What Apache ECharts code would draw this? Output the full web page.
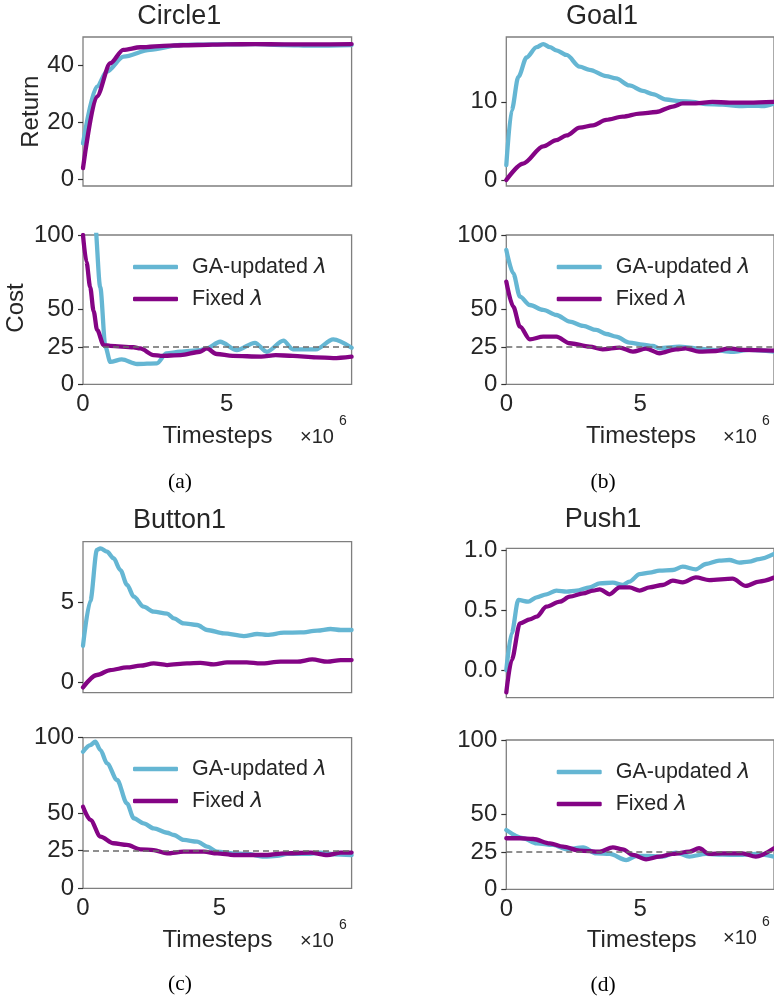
<!DOCTYPE html>
<html><head><meta charset="utf-8">
<script src="https://cdn.jsdelivr.net/npm/echarts@6/dist/echarts.min.js"></script>
<style>html,body{margin:0;padding:0;background:#fff}#c{width:774px;height:999px}</style>
</head><body><div id="c"></div>
<script>
// ---------- data ----------
const panelTitles = ['Circle1', 'Goal1', 'Button1', 'Push1'];
const panelCaptions = ['(a)', '(b)', '(c)', '(d)'];
const seriesNames = ['GA-updated λ', 'Fixed λ'];
const xMax = [9.34, 10.0, 9.84, 10.0];          // ×10^6 timesteps
const xTicks = [0, 5];
const costTicks = [0, 25, 50, 100];
const costLimit = 25;
const returnTicks = [[0, 20, 40], [0, 10], [0, 5], [0, 0.5, 1.0]];
const returnMin = [-2.46, -0.77, -0.62, -0.224];
const returnMax = [49.8, 18.3, 8.77, 1.014];

// (a) Circle1
const aRetGaX = [0, 0.48, 0.83, 1.41, 2.33, 3.38, 4.5, 6, 7, 8, 9.34];
const aRetGaY = [12.5, 32.4, 37.7, 42.9, 45.3, 47.0, 47.2, 47.3, 47.0, 46.8, 47.0];
const aRetFixX = [0, 0.48, 0.95, 1.4, 2, 3, 4, 5, 6, 7, 8, 9.34];
const aRetFixY = [3.8, 28.9, 40.6, 45.3, 46.2, 46.8, 47.0, 47.2, 47.3, 47.2, 47.2, 47.3];
const aCostGaX = [0, 0.2, 0.4, 0.6, 0.78, 0.95, 1.35, 1.88, 2.57, 2.9, 3.38, 4.07, 4.3, 4.77, 5.35, 5.98, 6.39, 6.97, 7.3, 8.1, 8.7, 9.34];
const aCostGaY = [190, 150, 112, 65, 25, 15, 16.7, 13.6, 14, 20.7, 21.8, 22.9, 24, 28.5, 22.9, 27.8, 21.8, 29.2, 23.4, 23.4, 30.1, 24.5];
const aCostFixX = [0, 0.12, 0.25, 0.37, 0.49, 0.72, 0.95, 1.76, 1.99, 2.45, 2.7, 3.4, 4.07, 4.3, 4.65, 5.2, 6.2, 6.7, 7.3, 8.1, 8.7, 9.34];
const aCostFixY = [100, 82, 65, 49, 36.4, 26.3, 25.7, 24.8, 24, 19.6, 19, 19.6, 21.8, 24, 20.3, 19, 18.6, 19.6, 19, 18.1, 17.5, 18.5];

// (b) Goal1
const bRetGaX = [0, 0.2, 0.45, 0.76, 1.13, 1.38, 1.63, 1.87, 2.25, 2.74, 3.11, 3.73, 4.1, 4.6, 5.1, 5.47, 5.97, 6.46, 6.96, 7.46, 8.08, 8.7, 9.32, 9.57, 10.0];
const bRetGaY = [1.9, 8.9, 13.2, 15.7, 17.0, 17.4, 17.0, 16.6, 16.0, 14.5, 14.1, 13.3, 13.0, 12.1, 11.4, 11.0, 10.3, 10.1, 10.0, 9.7, 9.65, 9.45, 9.5, 9.45, 9.8];
const bRetFixX = [0, 0.63, 1.38, 1.87, 2.25, 2.74, 3.24, 3.73, 4.35, 4.98, 5.6, 6.22, 6.59, 7.08, 7.7, 8.33, 9.07, 10.0];
const bRetFixY = [0, 2.1, 4.3, 5.1, 5.7, 6.7, 7.0, 7.7, 8.1, 8.5, 8.7, 9.4, 9.8, 9.8, 10.0, 9.9, 9.9, 10.0];
const bCostGaX = [0, 0.26, 0.51, 0.88, 1.38, 1.87, 2.37, 2.87, 3.36, 3.73, 4.1, 4.6, 5.1, 5.47, 5.72, 6.46, 7.08, 7.7, 8.45, 9.07, 10.0];
const bCostGaY = [90, 74.3, 58.7, 53.1, 49.8, 46.4, 42.0, 39.1, 36.4, 33.7, 31.9, 27.9, 26.6, 25.7, 24.1, 25.2, 24.1, 23.0, 21.7, 23.0, 21.9];
const bCostFixX = [0, 0.26, 0.51, 0.88, 1.38, 1.87, 2.37, 3.11, 3.6, 4.23, 4.73, 5.22, 5.72, 6.34, 6.7, 7.2, 7.83, 8.33, 8.82, 10.0];
const bCostFixY = [68.8, 52, 38.6, 30.1, 31.9, 31.9, 27.5, 25.2, 23.4, 24.6, 21.9, 23.9, 20.8, 23.4, 24.1, 21.9, 22.3, 24.1, 23.0, 22.5];

// (c) Button1
const cRetGaX = [0, 0.27, 0.51, 0.64, 0.88, 1.12, 1.37, 1.61, 1.86, 2.22, 2.59, 3.08, 3.33, 3.69, 4.18, 4.55, 5.16, 5.89, 6.38, 6.75, 7.36, 7.97, 8.58, 9.07, 9.44, 9.84];
const cRetGaY = [2.3, 5.1, 8.26, 8.36, 8.15, 7.74, 7.0, 6.1, 5.35, 4.73, 4.42, 4.3, 4.0, 3.69, 3.59, 3.28, 3.07, 2.9, 3.03, 2.97, 3.11, 3.13, 3.24, 3.34, 3.28, 3.28];
const cRetFixX = [0, 0.51, 1.0, 1.61, 2.1, 2.59, 3.08, 3.81, 4.3, 4.79, 5.28, 6.0, 6.5, 7.24, 7.85, 8.4, 8.95, 9.44, 9.84];
const cRetFixY = [-0.29, 0.48, 0.79, 0.95, 1.06, 1.2, 1.1, 1.2, 1.24, 1.14, 1.27, 1.27, 1.2, 1.31, 1.31, 1.45, 1.31, 1.41, 1.41];
const cCostGaX = [0, 0.27, 0.45, 0.64, 0.88, 1.25, 1.61, 1.86, 2.22, 2.59, 3.08, 3.33, 3.69, 4.18, 4.55, 4.91, 5.53, 6.01, 6.63, 7.11, 7.48, 8.22, 8.7, 9.19, 9.84];
const cCostGaY = [90.7, 95.1, 97.3, 91.8, 83, 71.9, 56.4, 46.5, 43.1, 39.8, 36.9, 35.4, 32.1, 31.0, 27.7, 24.3, 23.2, 22.8, 21.0, 21.5, 22.8, 22.8, 23.7, 22.6, 22.1];
const cCostFixX = [0, 0.27, 0.64, 1.12, 1.61, 2.1, 2.59, 3.08, 3.69, 4.43, 4.91, 5.53, 6.01, 6.75, 7.36, 8.34, 8.95, 9.44, 9.84];
const cCostFixY = [54.2, 45.4, 34.3, 29.9, 28.8, 25.9, 25.4, 23.2, 24.3, 24.3, 23.2, 22.1, 22.1, 22.1, 23.2, 23.7, 22.1, 23.7, 23.7];

// (d) Push1
const dRetGaX = [0, 0.2, 0.45, 0.82, 1.13, 1.5, 1.87, 2.25, 2.62, 3.11, 3.49, 3.98, 4.35, 4.6, 4.98, 5.35, 5.72, 6.22, 6.59, 7.08, 7.46, 7.95, 8.33, 8.7, 9.07, 9.44, 10.0];
const dRetGaY = [0.005, 0.31, 0.586, 0.572, 0.608, 0.633, 0.663, 0.655, 0.663, 0.69, 0.724, 0.729, 0.71, 0.738, 0.80, 0.812, 0.829, 0.834, 0.862, 0.84, 0.884, 0.912, 0.917, 0.895, 0.903, 0.925, 0.967];
const dRetFixX = [0, 0.2, 0.51, 0.88, 1.13, 1.5, 2.0, 2.37, 2.87, 3.24, 3.49, 3.86, 4.23, 4.6, 4.98, 5.35, 5.84, 6.22, 6.59, 7.08, 7.58, 8.45, 8.95, 9.44, 10.0];
const dRetFixY = [-0.18, 0.088, 0.392, 0.425, 0.448, 0.53, 0.572, 0.613, 0.64, 0.663, 0.674, 0.633, 0.69, 0.69, 0.663, 0.69, 0.71, 0.746, 0.732, 0.773, 0.751, 0.762, 0.702, 0.738, 0.771];
const dCostGaX = [0, 0.63, 1.13, 1.75, 2.25, 2.87, 3.36, 3.86, 4.48, 4.85, 5.35, 5.84, 6.34, 6.84, 7.46, 8.08, 8.7, 9.32, 10.0];
const dCostGaY = [39.7, 34.2, 30.8, 29.7, 26.8, 28.1, 24.1, 23.7, 19.6, 22.3, 22.3, 21.9, 24.6, 21.9, 23.7, 23.2, 23.0, 23.7, 21.9];
const dCostFixX = [0, 0.51, 1.0, 1.63, 2.12, 2.74, 3.49, 3.98, 4.35, 4.73, 5.22, 5.72, 6.22, 6.84, 7.2, 7.58, 8.08, 8.82, 9.32, 10.0];
const dCostFixY = [34.2, 34.2, 33.7, 30.8, 28.6, 25.9, 25.2, 28.1, 26.8, 23.0, 20.1, 21.9, 23.7, 25.2, 27.5, 23.7, 24.1, 24.1, 21.9, 27.5];

const retData = [
  [[aRetGaX, aRetGaY], [aRetFixX, aRetFixY]],
  [[bRetGaX, bRetGaY], [bRetFixX, bRetFixY]],
  [[cRetGaX, cRetGaY], [cRetFixX, cRetFixY]],
  [[dRetGaX, dRetGaY], [dRetFixX, dRetFixY]]
];
const costData = [
  [[aCostGaX, aCostGaY], [aCostFixX, aCostFixY]],
  [[bCostGaX, bCostGaY], [bCostFixX, bCostFixY]],
  [[cCostGaX, cCostGaY], [cCostFixX, cCostFixY]],
  [[dCostGaX, dCostGaY], [dCostFixX, dCostFixY]]
];

// ---------- layout / style ----------
const FONT = "'Liberation Sans', Arial, sans-serif";
const TXT = '#262626';
const COLORS = ['#65b6d3', '#840485'];
const L = [83, 506.3, 83, 506.3];
const W = 268.6;
const retBox = [[37, 149], [37, 149], [541.7, 151], [548.3, 149.4]];
const costBox = [[235, 149.3], [235, 149.3], [737.7, 150.6], [740, 149.3]];
const legendPos = [[128, 249], [551.7, 249], [128, 751], [551.7, 754]];

const pairs = (xs, ys) => xs.map((x, i) => [x, ys[i]]);

const grids = [], xAxes = [], yAxes = [], series = [], legends = [];
for (let p = 0; p < 4; p++) {
  [retBox[p], costBox[p]].forEach((box, k) => {
    const gi = grids.length;
    grids.push({left: L[p], top: box[0], width: W, height: box[1], show: true,
      borderColor: '#7f7f7f', borderWidth: 1.3, backgroundColor: 'transparent', containLabel: false});
    const isCost = k === 1;
    xAxes.push({type: 'value', gridIndex: gi, min: 0, max: xMax[p],
      axisLine: {show: false, onZero: false}, splitLine: {show: false},
      axisTick: {show: false},
      axisLabel: {show: isCost, customValues: xTicks, margin: 8, fontSize: 24, color: TXT, fontFamily: FONT}});
    const ticks = isCost ? costTicks : returnTicks[p];
    yAxes.push({type: 'value', gridIndex: gi,
      min: isCost ? 0 : returnMin[p], max: isCost ? 100 : returnMax[p],
      axisLine: {show: false}, splitLine: {show: false},
      axisTick: {show: true, customValues: ticks, length: 5, lineStyle: {color: '#333', width: 1.2}},
      axisLabel: {show: true, customValues: ticks, margin: 9, fontSize: 24, color: TXT, fontFamily: FONT,
        formatter: v => (p === 3 && !isCost) ? v.toFixed(1) : String(v)}});
    const data = isCost ? costData[p] : retData[p];
    data.forEach((d, s) => {
      const ser = {type: 'line', name: seriesNames[s], xAxisIndex: gi, yAxisIndex: gi,
        data: pairs(d[0], d[1]), showSymbol: false, symbol: 'none', smooth: 0.3, smoothMonotone: 'x',
        clip: true, lineStyle: {color: COLORS[s], width: 4.3, cap: 'round', join: 'round'},
        itemStyle: {color: COLORS[s]}, z: 2 + s, animation: false};
      if (isCost && s === 1) {
        ser.markLine = {silent: true, symbol: ['none', 'none'], animation: false,
          label: {show: false}, lineStyle: {type: [6, 4], color: '#6b6b6b', width: 1.5},
          emphasis: {disabled: true}, data: [{yAxis: costLimit}]};
      }
      series.push(ser);
    });
  });
  legends.push({left: legendPos[p][0], top: legendPos[p][1], orient: 'vertical',
    itemWidth: 45, itemHeight: 4.5, itemGap: 6, icon: 'roundRect', selectedMode: false,
    data: seriesNames,
    formatter: n => '{t|' + n.replace(' λ', ' ') + '}{l|λ}',
    textStyle: {color: TXT, fontSize: 21.5, fontFamily: FONT, lineHeight: 26, padding: [0, 0, 0, 9],
      rich: {t: {color: TXT, fontSize: 21.5, fontFamily: FONT, lineHeight: 26},
             l: {color: TXT, fontSize: 21.5, fontFamily: "'DejaVu Sans', sans-serif", fontStyle: 'italic', lineHeight: 26}}}});
}

// ---------- text elements ----------
const titlePos = [[179.3, 16.5], [602, 16.5], [179.5, 520.7], [603, 520]];
const capPos = [[180, 482], [603, 482], [180, 984], [603, 985]];
const tsPos = [[217.5, 436], [641, 436], [217.5, 940], [641.7, 940]];
const x10Pos = [[300, 437], [723, 437], [300, 941], [723, 938]];
const graphics = [];
const txt = (x, y, text, size, opts = {}) => Object.assign({type: 'text', x, y, silent: true,
  style: Object.assign({text, fontSize: size, fontFamily: FONT, fill: TXT, align: 'center', verticalAlign: 'middle'}, opts.style || {})},
  opts.el || {});
for (let p = 0; p < 4; p++) {
  graphics.push(txt(titlePos[p][0], titlePos[p][1], panelTitles[p], 27));
  graphics.push(txt(capPos[p][0], capPos[p][1], panelCaptions[p], 21.5, {style: {fontFamily: "'Liberation Serif', 'Times New Roman', serif", fill: '#000'}}));
  graphics.push(txt(tsPos[p][0], tsPos[p][1], 'Timesteps', 24));
  graphics.push(txt(x10Pos[p][0], x10Pos[p][1], '×10', 20, {style: {align: 'left'}}));
  graphics.push(txt(x10Pos[p][0] + 43, x10Pos[p][1] - 15.5, '6', 14));
}
graphics.push(txt(31, 111.7, 'Return', 24, {el: {rotation: Math.PI / 2}}));
graphics.push(txt(16.7, 308, 'Cost', 24, {el: {rotation: Math.PI / 2}}));

const chart = echarts.init(document.getElementById('c'), null, {renderer: 'canvas'});
chart.setOption({
  backgroundColor: '#fff', animation: false,
  grid: grids, xAxis: xAxes, yAxis: yAxes, series, legend: legends, graphic: graphics
});
</script></body></html>
